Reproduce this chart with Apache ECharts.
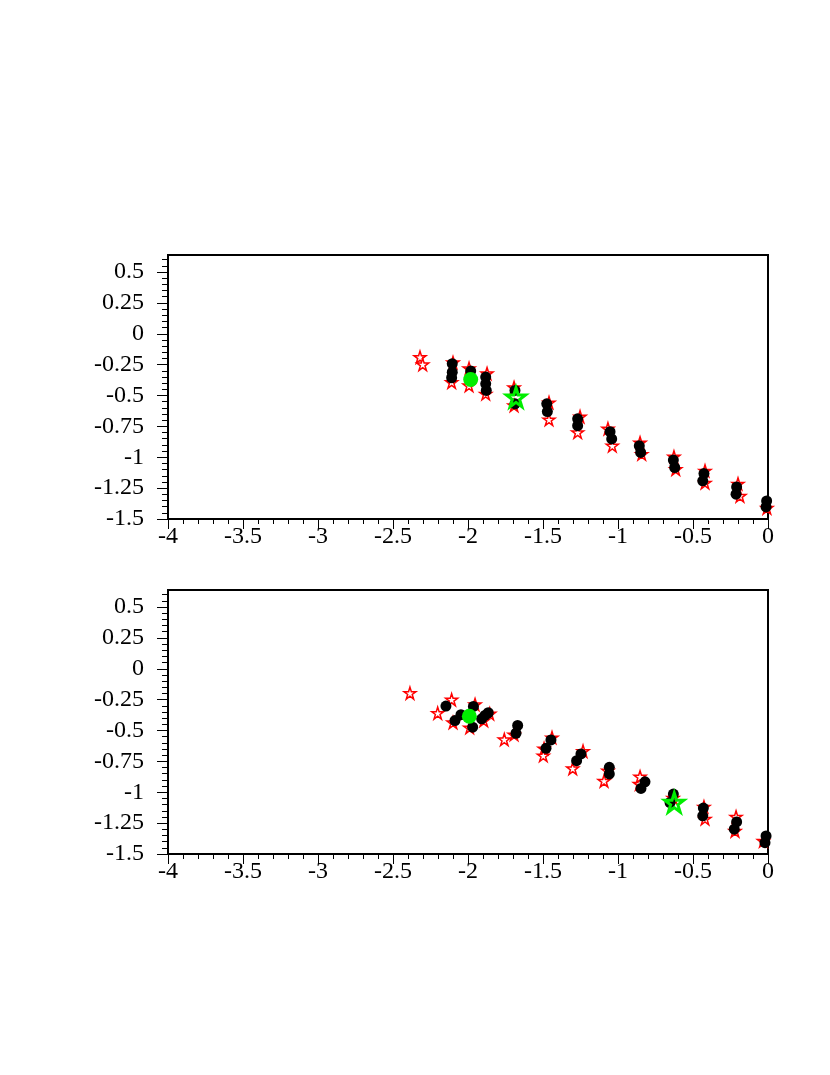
<!DOCTYPE html>
<html>
<head>
<meta charset="utf-8">
<script src="https://cdn.jsdelivr.net/npm/echarts@6/dist/echarts.min.js"></script>
<style>
html,body{margin:0;padding:0;background:#fff;}
#main{width:830px;height:1075px;}
</style>
</head>
<body>
<div id="main"></div>
<script>
const mainE1 = document.querySelector('#main');

// top panel
const topBlack = [
    [-2.105,-0.242],[-2.105,-0.311],[-2.109,-0.356],[-1.982,-0.302],
    [-1.882,-0.351],[-1.882,-0.405],[-1.878,-0.459],[-1.687,-0.459],[-1.687,-0.567],
    [-1.475,-0.567],[-1.471,-0.630],[-1.269,-0.689],[-1.269,-0.744],
    [-1.053,-0.793],[-1.042,-0.852],[-0.858,-0.907],[-0.849,-0.961],
    [-0.631,-1.023],[-0.622,-1.083],[-0.427,-1.132],[-0.435,-1.191],
    [-0.209,-1.240],[-0.213,-1.299],[-0.009,-1.354],[-0.013,-1.402]
];
const topRed = [
    [-2.320,-0.189],[-2.302,-0.248],[-2.100,-0.232],[-2.109,-0.392],
    [-1.993,-0.280],[-1.993,-0.419],[-1.873,-0.321],[-1.882,-0.486],
    [-1.693,-0.435],[-1.693,-0.581],[-1.460,-0.557],[-1.460,-0.695],
    [-1.253,-0.671],[-1.269,-0.798],[-1.067,-0.768],[-1.038,-0.907],
    [-0.853,-0.882],[-0.842,-0.974],[-0.627,-0.996],[-0.615,-1.096],
    [-0.420,-1.110],[-0.420,-1.207],[-0.200,-1.215],[-0.187,-1.313],[-0.007,-1.411]
];
const topGreenDot = [[-1.982,-0.370]];
const topGreenStar = [[-1.680,-0.514]];

// bottom panel
const botBlack = [
    [-2.147,-0.302],[-2.087,-0.419],[-2.047,-0.372],[-1.964,-0.305],[-1.969,-0.473],
    [-1.909,-0.405],[-1.887,-0.378],[-1.865,-0.356],[-1.680,-0.522],[-1.669,-0.459],
    [-1.480,-0.644],[-1.447,-0.576],[-1.276,-0.744],[-1.247,-0.690],
    [-1.058,-0.798],[-1.058,-0.852],[-0.820,-0.915],[-0.847,-0.969],
    [-0.631,-1.015],[-0.653,-1.083],[-0.431,-1.128],[-0.435,-1.191],
    [-0.209,-1.240],[-0.225,-1.299],[-0.013,-1.354],[-0.020,-1.408]
];
const botRed = [
    [-2.387,-0.197],[-2.109,-0.250],[-2.202,-0.359],[-2.100,-0.435],[-1.989,-0.476],
    [-1.855,-0.364],[-1.895,-0.419],[-1.953,-0.289],[-1.758,-0.573],[-1.693,-0.533],
    [-1.498,-0.703],[-1.493,-0.646],[-1.440,-0.557],[-1.302,-0.807],[-1.233,-0.667],
    [-1.093,-0.908],[-1.067,-0.826],[-0.858,-0.933],[-0.853,-0.874],[-0.633,-1.045],
    [-0.427,-1.118],[-0.420,-1.215],[-0.213,-1.199],[-0.220,-1.313],[-0.031,-1.394]
];
const botGreenDot = [[-1.991,-0.384]];
const botGreenStar = [[-0.625,-1.083]];

const yTicks = [-1.5,-1.25,-1,-0.75,-0.5,-0.25,0,0.25,0.5];

const labelFont = {fontFamily:'Liberation Serif', fontSize:24, color:'#000'};
const starPath = 'path://M0,-10L2.245,-3.09L9.511,-3.09L3.633,1.18L5.878,8.09L0,3.82L-5.878,8.09L-3.633,1.18L-9.511,-3.09L-2.245,-3.09Z';

function xAxisFor(idx){
    return {
        type:'value', gridIndex:idx, min:-4, max:0, interval:0.5,
        axisLine:{show:true, onZero:false, lineStyle:{color:'#000', width:2}},
        axisTick:{show:true, length:10, lineStyle:{color:'#000'}},
        minorTick:{show:true, splitNumber:5, length:5, lineStyle:{color:'#000'}},
        splitLine:{show:false},
        axisLabel:Object.assign({margin:6}, labelFont)
    };
}
function yAxisFor(idx){
    return {
        type:'value', gridIndex:idx, min:-1.5, max:0.638, interval:0.25,
        axisLine:{show:true, onZero:false, lineStyle:{color:'#000', width:2}},
        axisTick:{show:true, length:11, customValues:yTicks, lineStyle:{color:'#000'}},
        minorTick:{show:true, splitNumber:5, length:6, lineStyle:{color:'#000'}},
        splitLine:{show:false},
        axisLabel:Object.assign({margin:24, customValues:yTicks}, labelFont)
    };
}

function seriesFor(idx, black, red, gDot, gStar){
    return [
        {type:'scatter', xAxisIndex:idx, yAxisIndex:idx, data:red, symbol:starPath,
         symbolSize:12, itemStyle:{color:'#fff', borderColor:'#ff0000', borderWidth:1.5, opacity:1}, z:2},
        {type:'scatter', xAxisIndex:idx, yAxisIndex:idx, data:black, symbol:'circle',
         symbolSize:11, itemStyle:{color:'#000', opacity:1}, z:3},
        {type:'scatter', xAxisIndex:idx, yAxisIndex:idx, data:gDot, symbol:'circle',
         symbolSize:15, itemStyle:{color:'#00ee00', opacity:1}, z:4},
        {type:'scatter', xAxisIndex:idx, yAxisIndex:idx, data:gStar, symbol:starPath,
         symbolSize:19, itemStyle:{color:'rgba(0,0,0,0)', borderColor:'#00ee00', borderWidth:3, opacity:1}, z:4}
    ];
}

let myChart = echarts.init(mainE1, null, {renderer:'canvas'});
let option = {
    animation:false,
    backgroundColor:'#fff',
    grid:[
        {left:168, top:255, width:600, height:264, show:true, borderColor:'#000', borderWidth:2, backgroundColor:'transparent'},
        {left:168, top:590, width:600, height:264, show:true, borderColor:'#000', borderWidth:2, backgroundColor:'transparent'}
    ],
    xAxis:[xAxisFor(0), xAxisFor(1)],
    yAxis:[yAxisFor(0), yAxisFor(1)],
    series:[].concat(
        seriesFor(0, topBlack, topRed, topGreenDot, topGreenStar),
        seriesFor(1, botBlack, botRed, botGreenDot, botGreenStar)
    )
};
myChart.setOption(option);
</script>
</body>
</html>
